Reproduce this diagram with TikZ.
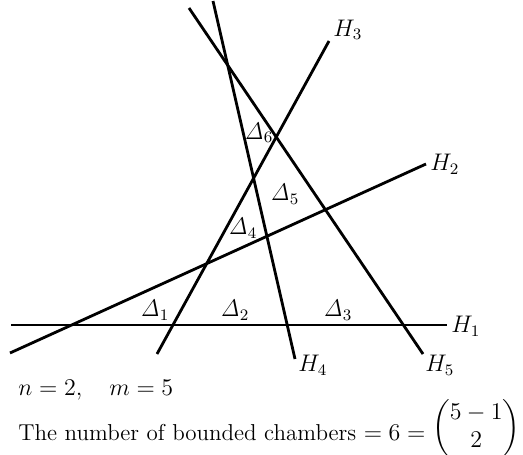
\documentclass[tikz,border=0pt]{standalone}
\usepackage{amsmath}
\begin{document}
\begin{tikzpicture}[x=0.5pt,y=-0.5pt,
  hline/.style={line width=1.4pt},
  lab/.style={font=\fontsize{11.5}{13}\selectfont, inner sep=0pt},
  txt/.style={font=\fontsize{11.5}{14}\selectfont, inner sep=0pt, anchor=base west}]
\useasboundingbox (0,0) rectangle (523,454);
% endpoints
\coordinate (a1) at (11,325);  \coordinate (b1) at (447,325);
\coordinate (a2) at (10,353);  \coordinate (b2) at (426,164);
\coordinate (a3) at (157,354); \coordinate (b3) at (329,41);
\coordinate (a4) at (295,359); \coordinate (b4) at (213,1);
\coordinate (a5) at (423,354); \coordinate (b5) at (189,8);
\draw[hline] (a1) -- (b1);
\draw[hline] (a2) -- (b2);
\draw[hline] (a3) -- (b3);
\draw[hline] (a4) -- (b4);
\draw[hline] (a5) -- (b5);
% line labels
\node[lab, anchor=west] (h1) at (451,326) {$H_1$};
\node[lab, anchor=west] (h2) at (430,164) {$H_2$};
\node[lab, anchor=west] (h3) at (333,30) {$H_3$};
\node[lab, anchor=west] (h4) at (298,365) {$H_4$};
\node[lab, anchor=west] (h5) at (425,365) {$H_5$};
% chamber labels
\node[lab] (d1) at (155,310) {$\mathit{\Delta}_1$};
\node[lab] (d2) at (235,310) {$\mathit{\Delta}_2$};
\node[lab] (d3) at (338,310) {$\mathit{\Delta}_3$};
\node[lab] (d4) at (243,228) {$\mathit{\Delta}_4$};
\node[lab] (d5) at (285,194) {$\mathit{\Delta}_5$};
\node[lab] (d6) at (259,133) {$\mathit{\Delta}_6$};
% text
\node[txt] (t1) at (18,395) {$n=2,\quad m=5$};
\node[txt] (t2) at (18,440) {The number of bounded chambers $=6=\raisebox{3pt}{$\left(\renewcommand{\arraystretch}{1.0}\begin{array}{@{}c@{}}5-1\\2\end{array}\right)$}$};
\end{tikzpicture}
\end{document}
